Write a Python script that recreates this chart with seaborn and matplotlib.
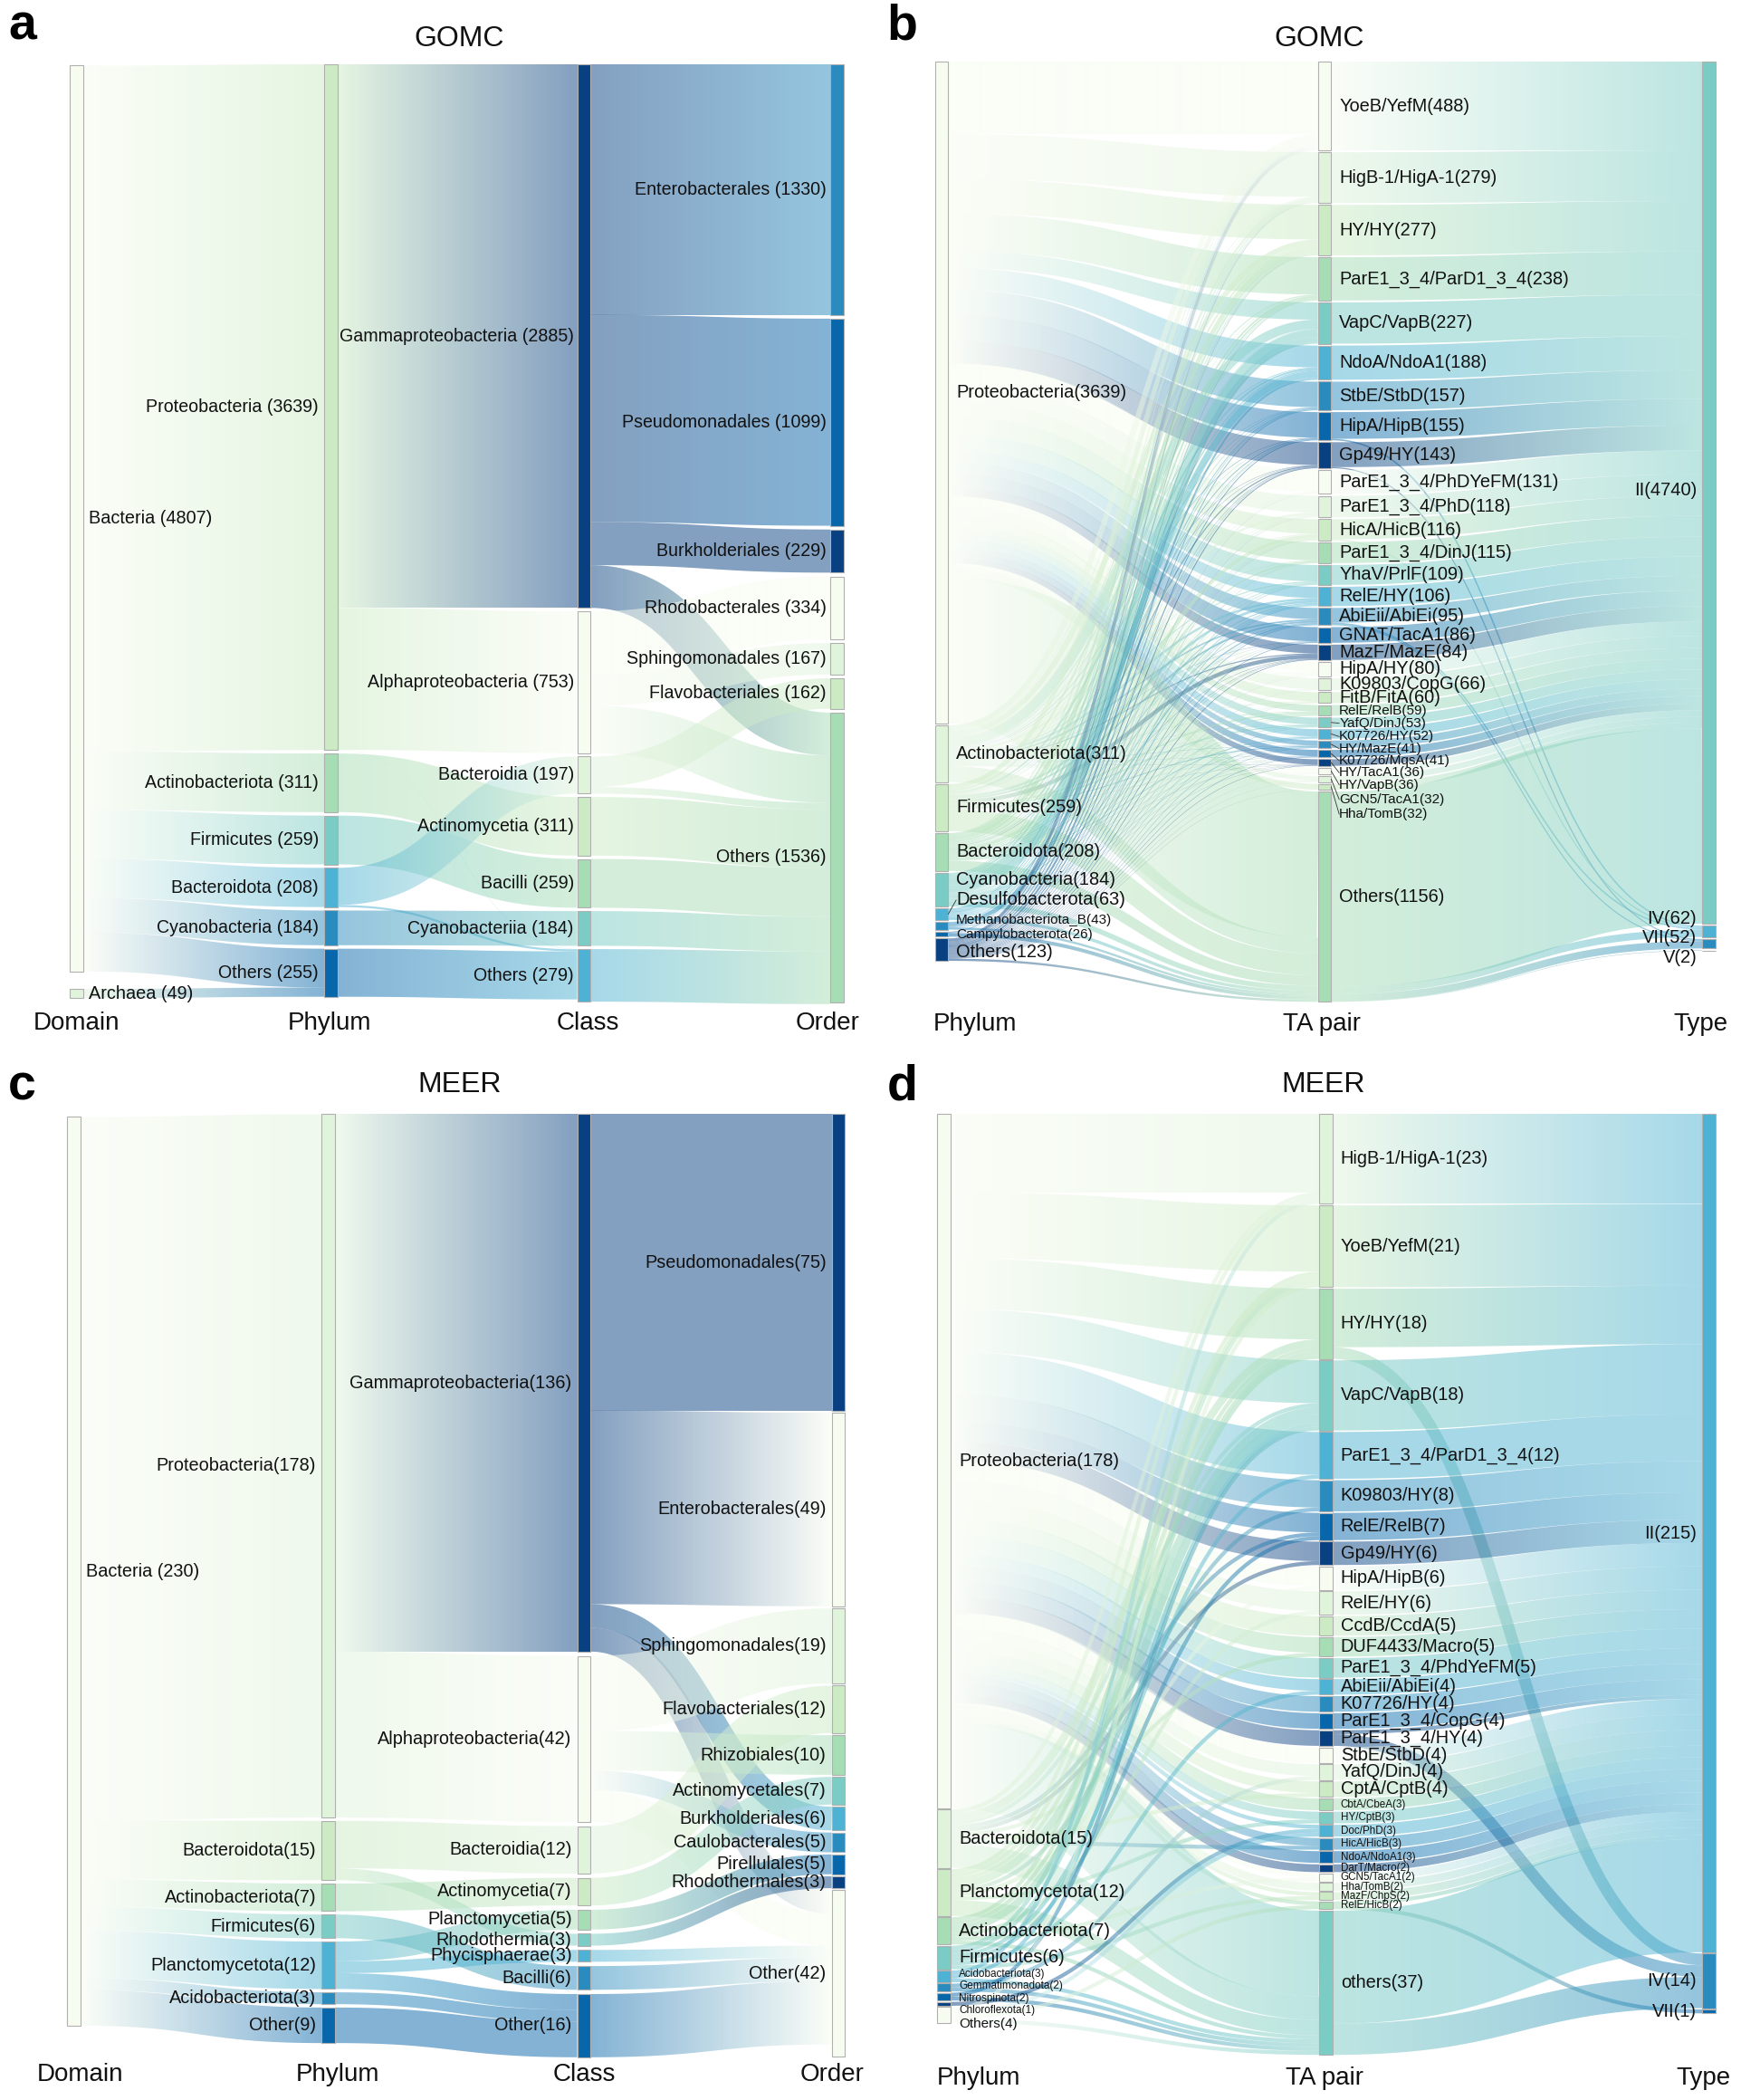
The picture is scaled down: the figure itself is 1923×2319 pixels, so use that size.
import numpy as np
import matplotlib
matplotlib.use("Agg")
import matplotlib.pyplot as plt
from matplotlib.path import Path
from matplotlib.patches import PathPatch
import seaborn as sns

# ---------- panel a (GOMC, taxonomy) ----------
a_domain = ["Bacteria", "Archaea"]
a_domain_n = [4807, 49]
a_phylum = ["Proteobacteria", "Actinobacteriota", "Firmicutes", "Bacteroidota", "Cyanobacteria", "Others"]
a_phylum_n = [3639, 311, 259, 208, 184, 255]
a_class = ["Gammaproteobacteria", "Alphaproteobacteria", "Bacteroidia", "Actinomycetia", "Bacilli", "Cyanobacteriia", "Others"]
a_class_n = [2885, 753, 197, 311, 259, 184, 279]
a_order = ["Enterobacterales", "Pseudomonadales", "Burkholderiales", "Rhodobacterales", "Sphingomonadales", "Flavobacteriales", "Others"]
a_order_n = [1330, 1099, 229, 334, 167, 162, 1536]
a_domain_phylum = [[3639, 311, 259, 208, 184, 206],
                   [0, 0, 0, 0, 0, 49]]
a_phylum_class = [[2885, 753, 0, 0, 0, 0, 1],
                  [0, 0, 0, 311, 0, 0, 0],
                  [0, 0, 0, 0, 259, 0, 0],
                  [0, 0, 197, 0, 0, 0, 11],
                  [0, 0, 0, 0, 0, 184, 0],
                  [0, 0, 0, 0, 0, 0, 255]]
a_class_order = [[1330, 1099, 229, 0, 0, 0, 227],
                 [0, 0, 0, 334, 167, 0, 252],
                 [0, 0, 0, 0, 0, 162, 35],
                 [0, 0, 0, 0, 0, 0, 311],
                 [0, 0, 0, 0, 0, 0, 259],
                 [0, 0, 0, 0, 0, 0, 184],
                 [0, 0, 0, 0, 0, 0, 279]]

# ---------- panel b (GOMC, TA pairs) ----------
b_phylum = ["Proteobacteria", "Actinobacteriota", "Firmicutes", "Bacteroidota", "Cyanobacteria",
            "Desulfobacterota", "Methanobacteriota_B", "Campylobacterota", "Others"]
b_phylum_n = [3639, 311, 259, 208, 184, 63, 43, 26, 123]
b_ta = ["YoeB/YefM", "HigB-1/HigA-1", "HY/HY", "ParE1_3_4/ParD1_3_4", "VapC/VapB", "NdoA/NdoA1", "StbE/StbD",
        "HipA/HipB", "Gp49/HY", "ParE1_3_4/PhDYeFM", "ParE1_3_4/PhD", "HicA/HicB", "ParE1_3_4/DinJ", "YhaV/PrlF",
        "RelE/HY", "AbiEii/AbiEi", "GNAT/TacA1", "MazF/MazE", "HipA/HY", "K09803/CopG", "FitB/FitA", "RelE/RelB",
        "YafQ/DinJ", "K07726/HY", "HY/MazE", "K07726/MqsA", "HY/TacA1", "HY/VapB", "GCN5/TacA1", "Hha/TomB", "Others"]
b_ta_n = [488, 279, 277, 238, 227, 188, 157, 155, 143, 131, 118, 116, 115, 109, 106, 95, 86, 84, 80, 66, 60, 59,
          53, 52, 41, 41, 36, 36, 32, 32, 1156]
b_type = ["II", "IV", "VII", "V"]
b_type_n = [4740, 62, 52, 2]
# one row per TA pair, one column per phylum (estimated from band widths)
b_ta_by_phylum = [[400, 30, 25, 5, 3, 5, 0, 3, 17],
                  [245, 4, 2, 12, 6, 4, 0, 1, 5],
                  [190, 30, 10, 25, 12, 3, 2, 0, 5],
                  [205, 6, 2, 10, 8, 3, 0, 0, 4],
                  [95, 50, 1, 3, 40, 8, 22, 1, 7],
                  [120, 4, 10, 6, 36, 2, 0, 0, 10],
                  [140, 2, 3, 2, 4, 2, 0, 0, 4],
                  [140, 3, 1, 4, 2, 1, 0, 0, 4],
                  [125, 2, 2, 6, 2, 1, 1, 0, 4],
                  [118, 3, 1, 3, 2, 1, 0, 0, 3],
                  [92, 14, 1, 3, 3, 2, 0, 0, 3],
                  [80, 3, 2, 20, 4, 2, 1, 1, 3],
                  [100, 3, 1, 7, 1, 1, 0, 0, 2],
                  [90, 6, 2, 4, 3, 1, 0, 0, 3],
                  [62, 12, 14, 6, 4, 2, 2, 1, 3],
                  [62, 9, 10, 3, 6, 1, 1, 0, 3],
                  [78, 2, 1, 1, 1, 0, 0, 0, 3],
                  [48, 6, 22, 2, 2, 1, 0, 0, 3],
                  [52, 10, 2, 8, 3, 2, 0, 0, 3],
                  [60, 1, 1, 1, 1, 0, 0, 0, 2],
                  [50, 4, 0, 1, 2, 1, 0, 0, 2],
                  [35, 4, 9, 5, 2, 1, 1, 0, 2],
                  [38, 2, 7, 3, 1, 0, 0, 0, 2],
                  [40, 1, 1, 5, 2, 1, 0, 0, 2],
                  [28, 2, 5, 2, 2, 0, 0, 0, 2],
                  [35, 1, 1, 1, 1, 0, 0, 0, 2],
                  [30, 1, 1, 1, 1, 0, 0, 0, 2],
                  [24, 7, 0, 1, 1, 1, 0, 0, 2],
                  [24, 2, 2, 1, 1, 0, 0, 0, 2],
                  [30, 0, 0, 0, 0, 0, 0, 0, 2],
                  [803, 87, 120, 57, 28, 17, 12, 20, 12]]
b_ta_type = [[488, 0, 0, 0], [279, 0, 0, 0], [277, 0, 0, 0], [238, 0, 0, 0], [227, 0, 0, 0], [188, 0, 0, 0],
             [157, 0, 0, 0], [147, 8, 0, 0], [137, 0, 6, 0], [131, 0, 0, 0], [118, 0, 0, 0], [110, 6, 0, 0],
             [115, 0, 0, 0], [109, 0, 0, 0], [106, 0, 0, 0], [81, 8, 6, 0], [86, 0, 0, 0], [84, 0, 0, 0],
             [80, 0, 0, 0], [66, 0, 0, 0], [60, 0, 0, 0], [59, 0, 0, 0], [53, 0, 0, 0], [52, 0, 0, 0],
             [41, 0, 0, 0], [41, 0, 0, 0], [36, 0, 0, 0], [36, 0, 0, 0], [32, 0, 0, 0], [32, 0, 0, 0],
             [1074, 40, 40, 2]]

# ---------- panel c (MEER, taxonomy) ----------
c_domain = ["Bacteria"]
c_domain_n = [230]
c_phylum = ["Proteobacteria", "Bacteroidota", "Actinobacteriota", "Firmicutes", "Planctomycetota", "Acidobacteriota", "Other"]
c_phylum_n = [178, 15, 7, 6, 12, 3, 9]
c_class = ["Gammaproteobacteria", "Alphaproteobacteria", "Bacteroidia", "Actinomycetia", "Planctomycetia",
           "Rhodothermia", "Phycisphaerae", "Bacilli", "Other"]
c_class_n = [136, 42, 12, 7, 5, 3, 3, 6, 16]
c_order = ["Pseudomonadales", "Enterobacterales", "Sphingomonadales", "Flavobacteriales", "Rhizobiales", "Actinomycetales",
           "Burkholderiales", "Caulobacterales", "Pirellulales", "Rhodothermales", "Other"]
c_order_n = [75, 49, 19, 12, 10, 7, 6, 5, 5, 3, 42]
c_domain_phylum = [[178, 15, 7, 6, 12, 3, 9]]
c_phylum_class = [[136, 42, 0, 0, 0, 0, 0, 0, 0],
                  [0, 0, 12, 0, 0, 3, 0, 0, 0],
                  [0, 0, 0, 7, 0, 0, 0, 0, 0],
                  [0, 0, 0, 0, 0, 0, 0, 6, 0],
                  [0, 0, 0, 0, 5, 0, 3, 0, 4],
                  [0, 0, 0, 0, 0, 0, 0, 0, 3],
                  [0, 0, 0, 0, 0, 0, 0, 0, 9]]
c_class_order = [[75, 49, 0, 0, 0, 0, 6, 0, 0, 0, 6],
                 [0, 0, 19, 0, 10, 0, 0, 5, 0, 0, 8],
                 [0, 0, 0, 12, 0, 0, 0, 0, 0, 0, 0],
                 [0, 0, 0, 0, 0, 7, 0, 0, 0, 0, 0],
                 [0, 0, 0, 0, 0, 0, 0, 0, 5, 0, 0],
                 [0, 0, 0, 0, 0, 0, 0, 0, 0, 3, 0],
                 [0, 0, 0, 0, 0, 0, 0, 0, 0, 0, 3],
                 [0, 0, 0, 0, 0, 0, 0, 0, 0, 0, 6],
                 [0, 0, 0, 0, 0, 0, 0, 0, 0, 0, 16]]

# ---------- panel d (MEER, TA pairs) ----------
d_phylum = ["Proteobacteria", "Bacteroidota", "Planctomycetota", "Actinobacteriota", "Firmicutes", "Acidobacteriota",
            "Gemmatimonadota", "Nitrospinota", "Chloroflexota", "Others"]
d_phylum_n = [178, 15, 12, 7, 6, 3, 2, 2, 1, 4]
d_ta = ["HigB-1/HigA-1", "YoeB/YefM", "HY/HY", "VapC/VapB", "ParE1_3_4/ParD1_3_4", "K09803/HY", "RelE/RelB", "Gp49/HY",
        "HipA/HipB", "RelE/HY", "CcdB/CcdA", "DUF4433/Macro", "ParE1_3_4/PhdYeFM", "AbiEii/AbiEi", "K07726/HY",
        "ParE1_3_4/CopG", "ParE1_3_4/HY", "StbE/StbD", "YafQ/DinJ", "CptA/CptB", "CbtA/CbeA", "HY/CptB", "Doc/PhD",
        "HicA/HicB", "NdoA/NdoA1", "DarT/Macro", "GCN5/TacA1", "Hha/TomB", "MazF/ChpS", "RelE/HicB", "others"]
d_ta_n = [23, 21, 18, 18, 12, 8, 7, 6, 6, 6, 5, 5, 5, 4, 4, 4, 4, 4, 4, 4, 3, 3, 3, 3, 3, 2, 2, 2, 2, 2, 37]
d_type = ["II", "IV", "VII"]
d_type_n = [215, 14, 1]
d_ta_by_phylum = [[20, 1, 1, 0, 0, 1, 0, 0, 0, 0],
                  [17, 0, 1, 1, 1, 0, 0, 0, 0, 1],
                  [13, 2, 1, 1, 1, 0, 0, 0, 0, 0],
                  [11, 1, 2, 2, 0, 1, 0, 1, 0, 0],
                  [11, 0, 0, 0, 1, 0, 0, 0, 0, 0],
                  [7, 0, 1, 0, 0, 0, 0, 0, 0, 0],
                  [5, 1, 0, 0, 1, 0, 0, 0, 0, 0],
                  [5, 1, 0, 0, 0, 0, 0, 0, 0, 0],
                  [5, 0, 1, 0, 0, 0, 0, 0, 0, 0],
                  [5, 0, 0, 1, 0, 0, 0, 0, 0, 0],
                  [5, 0, 0, 0, 0, 0, 0, 0, 0, 0],
                  [4, 1, 0, 0, 0, 0, 0, 0, 0, 0],
                  [5, 0, 0, 0, 0, 0, 0, 0, 0, 0],
                  [3, 0, 0, 0, 1, 0, 0, 0, 0, 0],
                  [4, 0, 0, 0, 0, 0, 0, 0, 0, 0],
                  [4, 0, 0, 0, 0, 0, 0, 0, 0, 0],
                  [4, 0, 0, 0, 0, 0, 0, 0, 0, 0],
                  [4, 0, 0, 0, 0, 0, 0, 0, 0, 0],
                  [3, 0, 0, 0, 0, 0, 1, 0, 0, 0],
                  [3, 1, 0, 0, 0, 0, 0, 0, 0, 0],
                  [3, 0, 0, 0, 0, 0, 0, 0, 0, 0],
                  [2, 0, 1, 0, 0, 0, 0, 0, 0, 0],
                  [1, 0, 0, 0, 0, 0, 0, 0, 1, 1],
                  [2, 1, 0, 0, 0, 0, 0, 0, 0, 0],
                  [3, 0, 0, 0, 0, 0, 0, 0, 0, 0],
                  [2, 0, 0, 0, 0, 0, 0, 0, 0, 0],
                  [1, 0, 0, 1, 0, 0, 0, 0, 0, 0],
                  [2, 0, 0, 0, 0, 0, 0, 0, 0, 0],
                  [1, 0, 0, 0, 1, 0, 0, 0, 0, 0],
                  [1, 0, 0, 0, 0, 0, 0, 0, 0, 1],
                  [22, 6, 4, 1, 0, 1, 1, 1, 0, 1]]
d_ta_type = [[23, 0, 0], [21, 0, 0], [15, 3, 0], [18, 0, 0], [12, 0, 0], [8, 0, 0], [7, 0, 0], [6, 0, 0],
             [6, 0, 0], [6, 0, 0], [5, 0, 0], [5, 0, 0], [5, 0, 0], [4, 0, 0], [4, 0, 0], [4, 0, 0], [1, 3, 0],
             [4, 0, 0], [4, 0, 0], [4, 0, 0], [3, 0, 0], [3, 0, 0], [3, 0, 0], [3, 0, 0], [3, 0, 0], [2, 0, 0],
             [2, 0, 0], [2, 0, 0], [2, 0, 0], [1, 0, 1], [29, 8, 0]]

# whole picture in reference units
W, H = 1300, 1568
LINK_ALPHA = 0.5
TEXT = "#111111"

sns.set_theme(style="white")
plt.rcParams["font.family"] = ["Liberation Sans", "DejaVu Sans"]
gnbu = sns.color_palette("GnBu", as_cmap=True)


def transpose(rows):
    return [list(r) for r in zip(*rows)]


def make_column(names, values, x, top, gap, scale, side, sep="", size=14.3, tweaks=None, leaders=(), pad=6, lpad=4):
    """Stack the nodes of one column from their values"""
    heights = np.array(values) * scale
    starts = top + np.concatenate([[0], np.cumsum(heights[:-1] + gap)])
    return dict(names=names, values=values, x=x, y0=starts, h=heights, side=side, sep=sep,
                size=size, tweaks=tweaks or {}, scale=scale, leaders=leaders, pad=pad, lpad=lpad)


def draw_link(ax, x0, x1, yc0, yc1, width, c0, c1):
    """One link drawn as a thick curve (constant width along its normal)"""
    xm = (x0 + x1) / 2
    t = np.linspace(0, 1, 90)
    px = (1 - t) ** 3 * x0 + 3 * (1 - t) ** 2 * t * xm + 3 * (1 - t) * t ** 2 * xm + t ** 3 * x1
    py = (1 - t) ** 3 * yc0 + 3 * (1 - t) ** 2 * t * yc0 + 3 * (1 - t) * t ** 2 * yc1 + t ** 3 * yc1
    dx, dy = np.gradient(px), np.gradient(py)
    norm = np.hypot(dx, dy)
    nx, ny = -dy / norm, dx / norm
    upper = np.column_stack([px + nx * width / 2, py + ny * width / 2])
    lower = np.column_stack([px - nx * width / 2, py - ny * width / 2])
    poly = np.vstack([upper, lower[::-1], upper[:1]])
    patch = PathPatch(Path(poly, closed=True), transform=ax.transData, fc="none", ec="none")
    ramp = np.linspace(0, 1, 96)[:, None]
    grad = np.zeros((1, 96, 4))
    grad[0, :, :3] = np.array(c0[:3]) * (1 - ramp) + np.array(c1[:3]) * ramp
    grad[0, :, 3] = LINK_ALPHA
    im = ax.imshow(grad, extent=(x0, x1, poly[:, 1].max() + 1, poly[:, 1].min() - 1), origin="upper",
                   aspect="auto", interpolation="nearest", zorder=1)
    im.set_clip_path(patch)


def draw_panel(ax, columns, matrices, node_w=10):
    ax.axis("off")
    ax.autoscale(False)
    # node colours run through GnBu over all columns in a row
    idx = 0
    for col in columns:
        col["colors"] = []
        for _ in col["names"]:
            col["colors"].append(gnbu(idx % 9 / 8))
            idx += 1

    for k, m in enumerate(matrices):
        src, tgt = columns[k], columns[k + 1]
        m = np.array(m)
        out_off = np.zeros(m.shape[0])
        in_off = np.zeros(m.shape[1])
        for i in range(m.shape[0]):
            for j in range(m.shape[1]):
                if m[i, j] <= 0:
                    continue
                w = m[i, j] * src["scale"]
                draw_link(ax, src["x"] + node_w, tgt["x"],
                          src["y0"][i] + out_off[i] + w / 2, tgt["y0"][j] + in_off[j] + w / 2, w,
                          src["colors"][i], tgt["colors"][j])
                out_off[i] += w
                in_off[j] += w

    for col in columns:
        ax.bar(col["x"], col["h"], bottom=col["y0"], width=node_w, align="edge", color=col["colors"],
               edgecolor="#b0b0b0", linewidth=0.8, zorder=2)
        for i, name in enumerate(col["names"]):
            y_mid = col["y0"][i] + col["h"][i] / 2
            y_txt, size = col["tweaks"].get(i, (y_mid, col["size"]))
            if col["side"] == "right":
                x_txt, ha = col["x"] + node_w + col["pad"], "left"
            else:
                x_txt, ha = col["x"] - col["lpad"], "right"
            ax.text(x_txt, y_txt, f"{name}{col['sep']}({col['values'][i]})", ha=ha, va="center",
                    fontsize=size, color=TEXT, zorder=4)
            # thin leader for labels pushed away from their node
            if i in col["leaders"]:
                ax.plot([col["x"] + node_w, x_txt], [y_mid, y_txt], color="#333333", lw=0.6, zorder=3)


def panel_axes(x0, x1, y0, y1):
    ax = fig.add_axes([x0 / W, 1 - y1 / H, (x1 - x0) / W, (y1 - y0) / H])
    ax.set_xlim(x0, x1)
    ax.set_ylim(y1, y0)
    return ax


def decorate(ax, letter, letter_x, letter_y, title, title_x, title_y, heads, head_y):
    ax.text(letter_x, letter_y, letter, fontsize=40, fontweight="bold", ha="left", va="center", color="black")
    ax.text(title_x, title_y, title, fontsize=23, ha="center", va="center", color=TEXT)
    for (name, x) in heads:
        ax.text(x, head_y, name, fontsize=20, ha="center", va="center", color=TEXT)


fig = plt.figure(figsize=(19.23, 23.19), dpi=100)

# a
ax_a = panel_axes(0, 650, 0, 780)
s = 0.1407
cols_a = [make_column(a_domain, a_domain_n, 52, 49, 13, s, "right", " ", pad=4),
          make_column(a_phylum, a_phylum_n, 242, 48, 2.6, s, "left", " ", size=14.1),
          make_column(a_class, a_class_n, 431, 48, 2.5, s, "left", " ", size=14.1, lpad=2.5),
          make_column(a_order, a_order_n, 620, 48, 2.8, s, "left", " ", size=14.1, lpad=3)]
draw_panel(ax_a, cols_a, [a_domain_phylum, a_phylum_class, a_class_order])
decorate(ax_a, "a", 6, 20, "GOMC", 343, 29,
         [("Domain", 57), ("Phylum", 246), ("Class", 439), ("Order", 618)], 764)

# b
ax_b = panel_axes(650, 1300, 0, 780)
s = 0.1358
small_b_phylum = {4: (657, 14.4), 5: (672, 14.4), 6: (687, 11), 7: (698, 11), 8: (711, 14.4)}
small_b_ta = {21: (531, 11), 22: (540, 11), 23: (550, 11), 24: (559, 11), 25: (568, 11),
              26: (577, 11), 27: (586, 11), 28: (597, 11), 29: (608, 11)}
type_labels_b = {0: (366, 14.5), 1: (686, 14.5), 2: (700, 14.5), 3: (715, 14.5)}
cols_b = [make_column(b_phylum, b_phylum_n, 698, 46, 1.5, s, "right", size=14.4, tweaks=small_b_phylum, leaders=(5,)),
          make_column(b_ta, b_ta_n, 984, 46, 1.42, s, "right", size=14.4, tweaks=small_b_ta,
                      leaders=(22, 23, 24, 25, 26, 27, 28, 29)),
          make_column(b_type, b_type_n, 1271, 46, 1.5, s, "left", tweaks=type_labels_b)]
draw_panel(ax_b, cols_b, [transpose(b_ta_by_phylum), b_ta_type])
decorate(ax_b, "b", 662, 20, "GOMC", 985, 29, [("Phylum", 728), ("TA pair", 987), ("Type", 1270)], 765)

# c
ax_c = panel_axes(0, 650, 780, 1568)
s = 2.95
cols_c = [make_column(c_domain, c_domain_n, 50, 834, 0, s, "right", " ", pad=4),
          make_column(c_phylum, c_phylum_n, 240, 832, 2.5, s, "left"),
          make_column(c_class, c_class_n, 431, 832, 3.2, s, "left"),
          make_column(c_order, c_order_n, 621, 832, 1.6, s, "left")]
draw_panel(ax_c, cols_c, [c_domain_phylum, c_phylum_class, c_class_order])
decorate(ax_c, "c", 6, 812, "MEER", 343, 810,
         [("Domain", 60), ("Phylum", 252), ("Class", 436), ("Order", 621)], 1549)

# d
ax_d = panel_axes(650, 1300, 780, 1568)
s = 2.91
small_d_phylum = {5: (1474, 8.5), 6: (1483, 8.5), 7: (1492, 8.5), 8: (1501, 8.5), 9: (1511, 11)}
cols_d = [make_column(d_phylum, d_phylum_n, 700, 832, 1, s, "right", size=14.4, tweaks=small_d_phylum),
          make_column(d_ta, d_ta_n, 985, 832, 1.1, s, "right", size=14.4),
          make_column(d_type, d_type_n, 1271, 832, 1, s, "left", size=14.5, tweaks={2: (1502, 14.5)})]
for i in range(20, 30):
    cols_d[1]["tweaks"][i] = (cols_d[1]["y0"][i] + cols_d[1]["h"][i] / 2, 8.4)
draw_panel(ax_d, cols_d, [transpose(d_ta_by_phylum), d_ta_type])
decorate(ax_d, "d", 662, 812, "MEER", 988, 810, [("Phylum", 731), ("TA pair", 989), ("Type", 1272)], 1552)

fig.savefig("out.png", dpi=100, facecolor="white")
